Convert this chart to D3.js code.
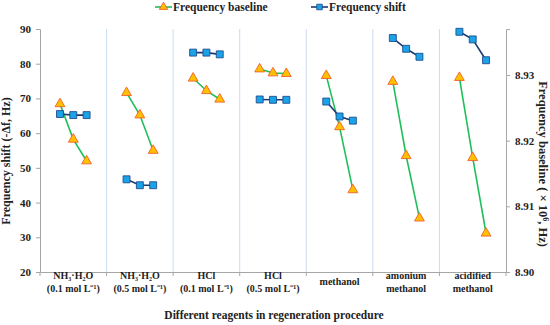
<!DOCTYPE html>
<html>
<head>
<meta charset="utf-8">
<script src="https://cdn.jsdelivr.net/npm/d3@7"></script>
<style>
  body { margin: 0; background: #fff; }
  text { font-family: "Liberation Serif", "Times New Roman", serif; font-weight: bold; fill: #222; }
</style>
</head>
<body>
<div id="chart"></div>
<script>
// Datos
const reagents = [
  ["NH₃·H₂O", "(0.1 mol L⁻¹)"],
  ["NH₃·H₂O", "(0.5 mol L⁻¹)"],
  ["HCl", "(0.1 mol L⁻¹)"],
  ["HCl", "(0.5 mol L⁻¹)"],
  ["methanol"],
  ["amonium", "methanol"],
  ["acidified", "methanol"]
];
const shiftValues = [
  [65.5, 65.2, 65.2],
  [46.7, 45.0, 45.0],
  [83.2, 83.2, 82.7],
  [69.7, 69.6, 69.6],
  [69.1, 64.8, 63.6],
  [87.4, 84.3, 82.0],
  [89.2, 87.0, 81.0]
];
const baselineValues = [
  [8.9256, 8.9202, 8.9169],
  [8.9273, 8.9239, 8.9185],
  [8.9295, 8.9276, 8.9263],
  [8.9309, 8.9303, 8.9302],
  [8.9299, 8.9221, 8.9125],
  [8.9290, 8.9177, 8.9082],
  [8.9296, 8.9174, 8.9059]
];
const leftTicks = [20, 30, 40, 50, 60, 70, 80, 90];
const rightTicks = [8.90, 8.91, 8.92, 8.93];

const width = 550, height = 325;
const margin = { top: 29, right: 44, bottom: 53, left: 40 };

const svg = d3.select("#chart").append("svg")
  .attr("width", width).attr("height", height);

// Escalas
const x = d3.scaleBand()
  .domain(d3.range(reagents.length))
  .range([margin.left, width - margin.right]);
const step = x.bandwidth() / 5;
const px = (g, i) => x(g) + x.bandwidth() / 2 + (i - 1) * step;

const yL = d3.scaleLinear().domain([20, 90]).range([height - margin.bottom, margin.top]);
const yR = d3.scaleLinear().domain([8.90, 8.937]).range([height - margin.bottom, margin.top]);

// Separadores entre grupos
svg.append("g").selectAll("line")
  .data(d3.range(1, reagents.length))
  .join("line")
  .attr("x1", d => x(d)).attr("x2", d => x(d))
  .attr("y1", margin.top).attr("y2", height - margin.bottom)
  .attr("stroke", "#c9dcee").attr("stroke-width", 1);

// Ejes
const axisColor = "#a6a6a6";
const gL = svg.append("g")
  .attr("transform", `translate(${margin.left},0)`)
  .call(d3.axisLeft(yL).tickValues(leftTicks).tickSize(4).tickPadding(5));
const gR = svg.append("g")
  .attr("transform", `translate(${width - margin.right},0)`)
  .call(d3.axisRight(yR).tickValues(rightTicks).tickFormat(d3.format(".2f")).tickSize(4).tickPadding(5));
const gB = svg.append("g")
  .attr("transform", `translate(0,${height - margin.bottom})`)
  .call(d3.axisBottom(x).tickSize(0).tickFormat(""));
gB.selectAll(".tick").remove();
gB.selectAll("line.div")
  .data(d3.range(0, reagents.length + 1))
  .join("line")
  .attr("x1", d => d < reagents.length ? x(d) : x(d - 1) + x.bandwidth())
  .attr("x2", d => d < reagents.length ? x(d) : x(d - 1) + x.bandwidth())
  .attr("y1", 0).attr("y2", 4)
  .attr("stroke", axisColor);

[gL, gR, gB].forEach(g => {
  g.select(".domain").attr("stroke", axisColor);
  g.selectAll(".tick line").attr("stroke", axisColor);
  g.selectAll(".tick text").attr("font-size", 11).attr("fill", "#222")
    .attr("font-family", "Liberation Serif").attr("font-weight", "bold");
});

// Etiquetas de categorías
const lab = svg.append("g").selectAll("text")
  .data(reagents)
  .join("text")
  .attr("text-anchor", "middle")
  .attr("font-size", 10)
  .attr("x", (d, i) => x(i) + x.bandwidth() / 2)
  .attr("y", d => d.length === 1 ? 285 : 279);
lab.selectAll("tspan")
  .data(d => d)
  .join("tspan")
  .attr("x", function() { return d3.select(this.parentNode).attr("x"); })
  .attr("dy", (d, i) => i === 0 ? 0 : 13)
  .text(d => d);

// Títulos de ejes
svg.append("text")
  .attr("x", 274).attr("y", 319)
  .attr("text-anchor", "middle").attr("font-size", 11.5)
  .text("Different reagents in  regeneration procedure");

svg.append("text")
  .attr("transform", `translate(10,161) rotate(-90)`)
  .attr("text-anchor", "middle").attr("font-size", 12)
  .text("Frequency shift  (-Δf, Hz)");

svg.append("text")
  .attr("transform", `translate(539,164) rotate(90)`)
  .attr("text-anchor", "middle").attr("font-size", 12.5)
  .html("Frequency baseline  ( × 10<tspan dy='-4' font-size='8'>6</tspan><tspan dy='4'>, Hz)</tspan>");

// Series
const green = "#1fbf5a", navy = "#1f3a70";
const triangle = d3.symbol().type(d3.symbolTriangle).size(42);
const square = d3.symbol().type(d3.symbolSquare).size(48);

const lineR = d3.line().x((d, i) => px(d.g, i)).y(d => yR(d.v));
const lineL = d3.line().x((d, i) => px(d.g, i)).y(d => yL(d.v));

baselineValues.forEach((vals, g) => {
  const pts = vals.map(v => ({ g, v }));
  svg.append("path").datum(pts).attr("d", lineR)
    .attr("fill", "none").attr("stroke", green).attr("stroke-width", 1.6);
  svg.append("g").selectAll("path").data(pts).join("path")
    .attr("d", triangle)
    .attr("transform", (d, i) => `translate(${px(g, i)},${yR(d.v)})`)
    .attr("fill", "#ffc000").attr("stroke", "#f2602a").attr("stroke-width", 0.9);
});

shiftValues.forEach((vals, g) => {
  const pts = vals.map(v => ({ g, v }));
  svg.append("path").datum(pts).attr("d", lineL)
    .attr("fill", "none").attr("stroke", navy).attr("stroke-width", 1.6);
  svg.append("g").selectAll("path").data(pts).join("path")
    .attr("d", square)
    .attr("transform", (d, i) => `translate(${px(g, i)},${yL(d.v)})`)
    .attr("fill", "#1aa3e8").attr("stroke", "#1f4e8c").attr("stroke-width", 0.9);
});

// Leyenda
const legend = [
  { name: "Frequency baseline", x: 155, color: green, sym: triangle, fill: "#ffc000", stroke: "#f2602a" },
  { name: "Frequency shift", x: 311, color: navy, sym: square, fill: "#1aa3e8", stroke: "#1f4e8c" }
];
const lg = svg.append("g").selectAll("g").data(legend).join("g")
  .attr("transform", d => `translate(${d.x},7)`);
lg.append("line").attr("x1", 0).attr("x2", 17)
  .attr("stroke", d => d.color).attr("stroke-width", 1.6);
lg.append("path").attr("d", d => d.sym.size(30)())
  .attr("transform", "translate(8.5,0)")
  .attr("fill", d => d.fill).attr("stroke", d => d.stroke).attr("stroke-width", 0.9);
lg.append("text").attr("x", 18).attr("y", 4).attr("font-size", 11.5)
  .text(d => d.name);
</script>
</body>
</html>
